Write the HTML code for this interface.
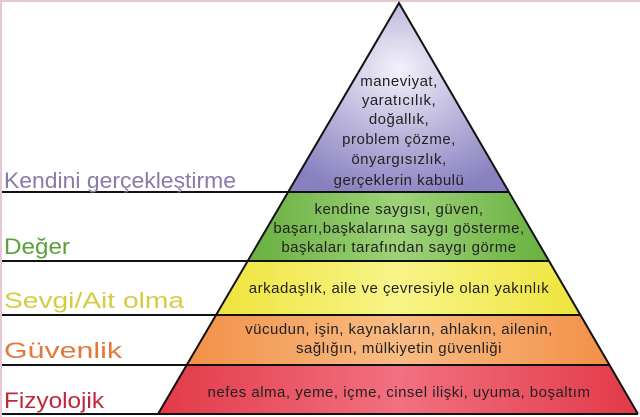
<!DOCTYPE html>
<html><head><meta charset="utf-8"><style>
html,body{margin:0;padding:0;background:#fff;}
svg{display:block;}
text{font-family:"Liberation Sans","DejaVu Sans",sans-serif;}
</style></head><body>
<svg width="640" height="417" viewBox="0 0 640 417" xmlns="http://www.w3.org/2000/svg">
<defs>
<radialGradient id="gp" cx="0.5" cy="0.35" r="0.7"><stop offset="0" stop-color="#f4f2fa"/><stop offset="0.5" stop-color="#bcb6dc"/><stop offset="1" stop-color="#8880c0"/></radialGradient>
<linearGradient id="gg" x1="0" x2="1"><stop offset="0" stop-color="#68b040"/><stop offset="0.5" stop-color="#9ed27a"/><stop offset="1" stop-color="#68b040"/></linearGradient>
<linearGradient id="gy" x1="0" x2="1"><stop offset="0" stop-color="#eee43c"/><stop offset="0.5" stop-color="#f8f48a"/><stop offset="1" stop-color="#eee43c"/></linearGradient>
<linearGradient id="go" x1="0" x2="1"><stop offset="0" stop-color="#f29048"/><stop offset="0.5" stop-color="#f8bc84"/><stop offset="1" stop-color="#f29048"/></linearGradient>
<linearGradient id="gr" x1="0" x2="1"><stop offset="0" stop-color="#e23a48"/><stop offset="0.5" stop-color="#f27080"/><stop offset="1" stop-color="#e23a48"/></linearGradient>
</defs>
<rect x="0" y="0" width="640" height="2" fill="#e8c8d0"/>
<rect x="0" y="0" width="2" height="417" fill="#e8c8d0"/>
<polygon points="399,3 509,192 289,192" fill="url(#gp)"/>
<polygon points="289,192 509,192 549,261 249,261" fill="url(#gg)"/>
<polygon points="249,261 549,261 580,315 217,315" fill="url(#gy)"/>
<polygon points="217,315 580,315 609,365 187,365" fill="url(#go)"/>
<polygon points="187,365 609,365 638,414 158,414" fill="url(#gr)"/>
<g stroke="#111" stroke-width="2" fill="none">
<polyline points="158,414 399,3 638,414"/>
<line x1="2" y1="192" x2="509" y2="192"/>
<line x1="2" y1="261" x2="549" y2="261"/>
<line x1="2" y1="315" x2="580" y2="315"/>
<line x1="2" y1="365" x2="609" y2="365"/>
<line x1="2" y1="414" x2="638" y2="414"/>
</g>
<g font-size="22" lengthAdjust="spacingAndGlyphs">
<text x="4" y="188" fill="#8a7aa8" textLength="232" lengthAdjust="spacingAndGlyphs">Kendini gerçekleştirme</text>
<text x="4" y="254" fill="#5aa03c" textLength="66" lengthAdjust="spacingAndGlyphs">Değer</text>
<text x="4" y="308" fill="#d6cc44" textLength="180" lengthAdjust="spacingAndGlyphs">Sevgi/Ait olma</text>
<text x="4" y="358" fill="#e07a3c" textLength="118" lengthAdjust="spacingAndGlyphs">Güvenlik</text>
<text x="4" y="408" fill="#c0283a" textLength="100" lengthAdjust="spacingAndGlyphs">Fizyolojik</text>
</g>
<g font-size="15" fill="#222" text-anchor="middle" letter-spacing="0.5">
<text x="399" y="86">maneviyat,</text>
<text x="399" y="105">yaratıcılık,</text>
<text x="399" y="124">doğallık,</text>
<text x="399" y="144">problem çözme,</text>
<text x="399" y="164">önyargısızlık,</text>
<text x="399" y="185">gerçeklerin kabulü</text>
<text x="399" y="214">kendine saygısı, güven,</text>
<text x="399" y="233">başarı,başkalarına saygı gösterme,</text>
<text x="399" y="252">başkaları tarafından saygı görme</text>
<text x="399" y="293">arkadaşlık, aile ve çevresiyle olan yakınlık</text>
<text x="399" y="334">vücudun, işin, kaynakların, ahlakın, ailenin,</text>
<text x="399" y="353">sağlığın, mülkiyetin güvenliği</text>
<text x="399" y="397">nefes alma, yeme, içme, cinsel ilişki, uyuma, boşaltım</text>
</g>
</svg>
</body></html>
